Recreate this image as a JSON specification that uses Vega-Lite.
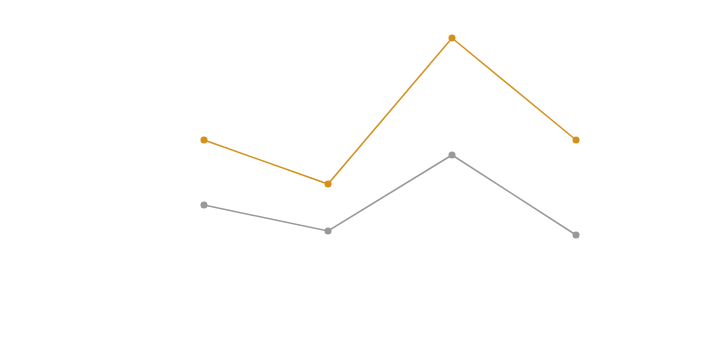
{
  "$schema": "https://vega.github.io/schema/vega-lite/v6.json",
  "width": 720,
  "height": 337,
  "autosize": {"type": "fit", "contains": "padding"},
  "padding": 0,
  "config": {"view": {"stroke": null}},
  "data": {"values": [
    {"x": 1, "y": 197, "s": "A"},
    {"x": 2, "y": 153, "s": "A"},
    {"x": 3, "y": 299, "s": "A"},
    {"x": 4, "y": 197, "s": "A"},
    {"x": 1, "y": 132, "s": "B"},
    {"x": 2, "y": 106, "s": "B"},
    {"x": 3, "y": 182, "s": "B"},
    {"x": 4, "y": 102, "s": "B"}
  ]},
  "mark": {"type": "line", "point": {"size": 50, "filled": true, "opacity": 1}, "strokeWidth": 1.5},
  "encoding": {
    "x": {"field": "x", "type": "quantitative", "scale": {"domain": [-0.645, 5.161], "nice": false, "zero": false}, "axis": null},
    "y": {"field": "y", "type": "quantitative", "scale": {"domain": [0, 337], "nice": false}, "axis": null},
    "color": {"field": "s", "type": "nominal", "scale": {"domain": ["A", "B"], "range": ["#d4901a", "#999999"]}, "legend": null}
  }
}
